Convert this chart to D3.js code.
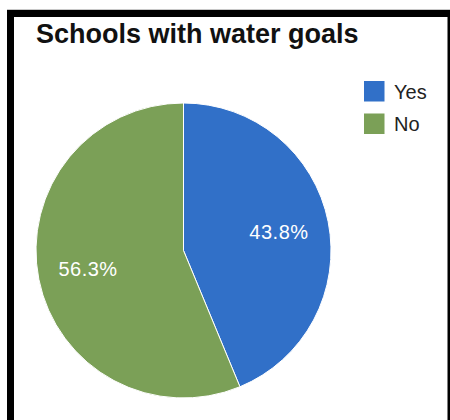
<!DOCTYPE html>
<html>
<head>
<meta charset="utf-8">
<script src="https://cdn.jsdelivr.net/npm/d3@7"></script>
<style>
  html, body { margin: 0; padding: 0; background: #fff; }
  svg { display: block; }
</style>
</head>
<body>
<svg id="chart" width="450" height="420"></svg>
<script>
// Survey answers: how many schools have water goals
const categories = ["Yes", "No"];
const counts = [7, 9];
const colors = ["#3170c8", "#7ba057"];
const chartTitle = "Schools with water goals";

const svg = d3.select("#chart");
const W = 450, H = 420;

// Framing border
svg.append("line").attr("x1", 7).attr("x2", W).attr("y1", 9.5).attr("y2", 9.5)
  .attr("stroke", "#c8c8c8").attr("stroke-width", 1);
svg.append("rect").attr("x", 7).attr("y", 10).attr("width", W - 7).attr("height", 7).attr("fill", "#000");
svg.append("rect").attr("x", 7).attr("y", 10).attr("width", 7).attr("height", H - 10).attr("fill", "#000");
svg.append("rect").attr("x", 447.5).attr("y", 10).attr("width", 2.5).attr("height", H - 10).attr("fill", "#000");

// Title
svg.append("text")
  .attr("x", 36).attr("y", 43)
  .attr("font-family", "'Liberation Sans', Arial, sans-serif")
  .attr("font-weight", "bold")
  .attr("font-size", 27)
  .attr("fill", "#111")
  .text(chartTitle);

// Pie
const cx = 183.5, cy = 250.5, r = 147.5;
const data = categories.map((c, i) => ({ name: c, value: counts[i], color: colors[i] }));
const total = d3.sum(counts);
const pie = d3.pie().value(d => d.value).sort(null);
const arc = d3.arc().innerRadius(0).outerRadius(r);
const labelArc = d3.arc().innerRadius(r * 0.66).outerRadius(r * 0.66);

const g = svg.append("g").attr("transform", `translate(${cx},${cy})`);
const arcs = pie(data);

g.selectAll("path.slice")
  .data(arcs)
  .join("path")
  .attr("class", "slice")
  .attr("d", arc)
  .attr("fill", d => d.data.color)
  .attr("stroke", "#fff")
  .attr("stroke-width", 1);

const fmt = d3.format(".1%");
g.selectAll("text.pct")
  .data(arcs)
  .join("text")
  .attr("class", "pct")
  .attr("transform", d => `translate(${labelArc.centroid(d)})`)
  .attr("text-anchor", "middle")
  .attr("dy", "0.35em")
  .attr("font-family", "'Liberation Sans', Arial, sans-serif")
  .attr("font-size", 20)
  .attr("letter-spacing", 0.5)
  .attr("fill", "#fff")
  .text(d => fmt(d.data.value / total));

// Legend
const legend = svg.append("g").attr("transform", "translate(364,81)");
const item = legend.selectAll("g.item")
  .data(data)
  .join("g")
  .attr("class", "item")
  .attr("transform", (d, i) => `translate(0,${i * 32.5})`);
item.append("rect")
  .attr("width", 20.5).attr("height", 20.5)
  .attr("fill", d => d.color);
item.append("text")
  .attr("x", 30).attr("y", 17.5)
  .attr("font-family", "'Liberation Sans', Arial, sans-serif")
  .attr("font-size", 20)
  .attr("fill", "#222")
  .text(d => d.name);
</script>
</body>
</html>
